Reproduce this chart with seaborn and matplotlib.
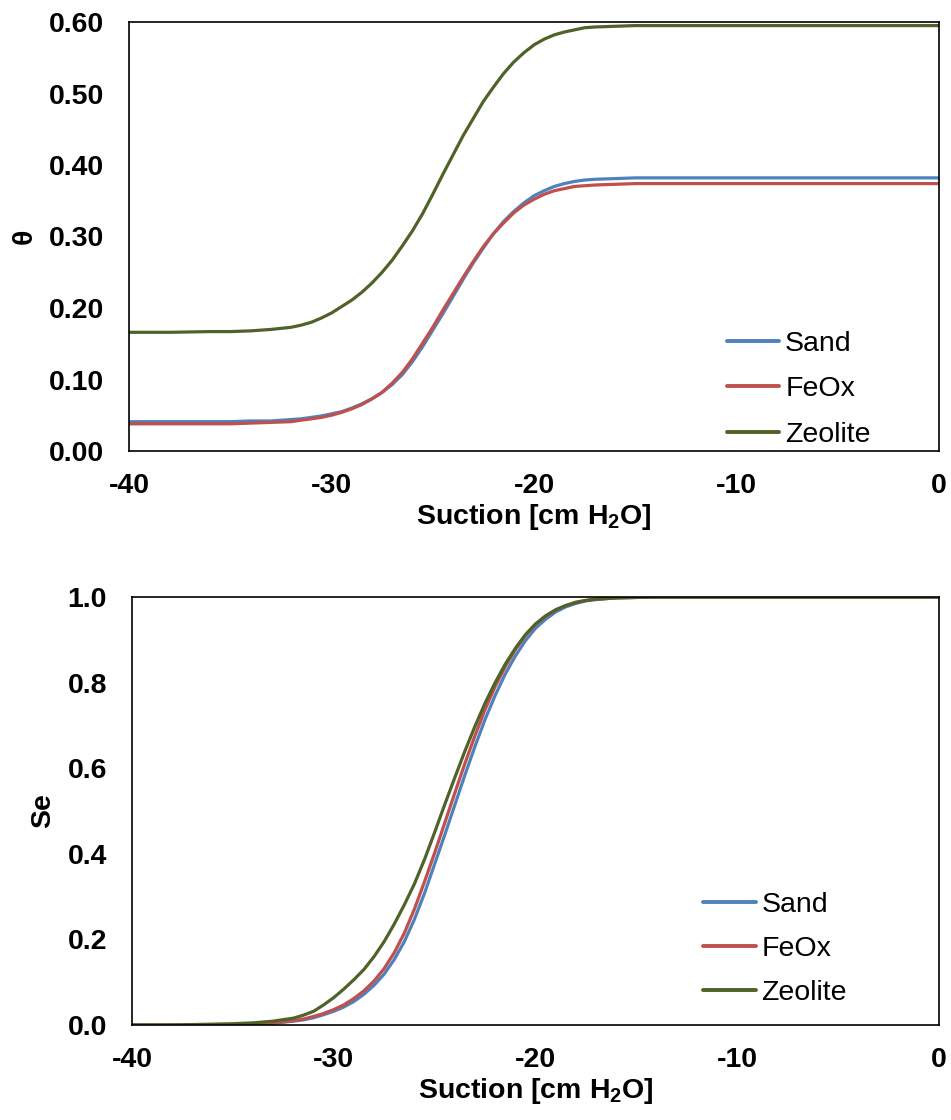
import numpy as np
import pandas as pd
import matplotlib
matplotlib.use("Agg")
import matplotlib.pyplot as plt
import seaborn as sns

# ---- data ----
suction = [-40, -38, -36, -35, -34, -33, -32, -31.5, -31, -30.5, -30, -29.5, -29, -28.5,
           -28, -27.5, -27, -26.5, -26, -25.5, -25, -24.5, -24, -23.5, -23, -22.5, -22,
           -21.5, -21, -20.5, -20, -19.5, -19, -18.5, -18, -17.5, -17, -16, -15, -14,
           -12, -10, -8, -6, -4, -2, 0]

theta_sand = [0.041, 0.041, 0.041, 0.041, 0.042, 0.042, 0.044, 0.045, 0.047, 0.049, 0.052,
              0.055, 0.060, 0.066, 0.073, 0.082, 0.093, 0.107, 0.125, 0.146, 0.169, 0.192,
              0.216, 0.240, 0.263, 0.284, 0.304, 0.321, 0.335, 0.347, 0.357, 0.364, 0.370,
              0.374, 0.377, 0.379, 0.380, 0.381, 0.382, 0.382, 0.382, 0.382, 0.382, 0.382,
              0.382, 0.382, 0.382]
theta_feox = [0.038, 0.038, 0.038, 0.038, 0.039, 0.040, 0.041, 0.043, 0.045, 0.047, 0.050,
              0.054, 0.059, 0.065, 0.073, 0.082, 0.095, 0.110, 0.129, 0.151, 0.173, 0.197,
              0.220, 0.243, 0.265, 0.286, 0.304, 0.319, 0.333, 0.344, 0.352, 0.359, 0.364,
              0.367, 0.370, 0.371, 0.372, 0.373, 0.374, 0.374, 0.374, 0.374, 0.374, 0.374,
              0.374, 0.374, 0.374]
theta_zeolite = [0.166, 0.166, 0.167, 0.167, 0.168, 0.170, 0.173, 0.176, 0.180, 0.186, 0.193,
                 0.202, 0.211, 0.222, 0.235, 0.250, 0.267, 0.287, 0.308, 0.332, 0.359, 0.387,
                 0.414, 0.441, 0.465, 0.489, 0.509, 0.528, 0.544, 0.557, 0.568, 0.576, 0.582,
                 0.586, 0.589, 0.592, 0.593, 0.594, 0.595, 0.595, 0.595, 0.595, 0.595, 0.595,
                 0.595, 0.595, 0.595]

se_sand = [0.000, 0.000, 0.000, 0.001, 0.002, 0.004, 0.009, 0.012, 0.017, 0.024, 0.032,
           0.042, 0.055, 0.072, 0.093, 0.119, 0.153, 0.195, 0.247, 0.308, 0.376, 0.444,
           0.514, 0.584, 0.651, 0.714, 0.770, 0.820, 0.862, 0.898, 0.927, 0.948, 0.965,
           0.977, 0.985, 0.991, 0.994, 0.998, 0.999, 1.000, 1.000, 1.000, 1.000, 1.000,
           1.000, 1.000, 1.000]
se_feox = [0.000, 0.000, 0.000, 0.001, 0.003, 0.005, 0.010, 0.014, 0.020, 0.027, 0.036,
           0.047, 0.062, 0.080, 0.103, 0.132, 0.169, 0.215, 0.271, 0.335, 0.402, 0.472,
           0.542, 0.611, 0.676, 0.737, 0.791, 0.837, 0.877, 0.910, 0.936, 0.955, 0.970,
           0.980, 0.988, 0.992, 0.995, 0.998, 0.999, 1.000, 1.000, 1.000, 1.000, 1.000,
           1.000, 1.000, 1.000]
se_zeolite = [0.000, 0.000, 0.002, 0.003, 0.005, 0.009, 0.016, 0.023, 0.032, 0.047, 0.064,
              0.084, 0.106, 0.130, 0.160, 0.195, 0.236, 0.281, 0.330, 0.387, 0.450, 0.515,
              0.578, 0.640, 0.698, 0.752, 0.800, 0.843, 0.880, 0.912, 0.937, 0.956, 0.970,
              0.980, 0.987, 0.992, 0.995, 0.998, 0.999, 1.000, 1.000, 1.000, 1.000, 1.000,
              1.000, 1.000, 1.000]

materials = ["Sand", "FeOx", "Zeolite"]
colors = ["#4F81BD", "#C0504D", "#4F6228"]
x_ticks = [-40, -30, -20, -10, 0]
theta_ticks = [0.0, 0.1, 0.2, 0.3, 0.4, 0.5, 0.6]
se_ticks = [0.0, 0.2, 0.4, 0.6, 0.8, 1.0]

# ---- long-form tables ----
def long_table(series):
    frames = []
    for name, vals in zip(materials, series):
        frames.append(pd.DataFrame({"Suction": suction, "value": vals, "Material": name}))
    return pd.concat(frames, ignore_index=True)

df_theta = long_table([theta_sand, theta_feox, theta_zeolite])
df_se = long_table([se_sand, se_feox, se_zeolite])

# ---- style ----
sns.set_theme(style="white")
plt.rcParams["font.family"] = ["Liberation Sans", "DejaVu Sans"]
plt.rcParams["axes.unicode_minus"] = False
plt.rcParams["mathtext.fontset"] = "custom"
plt.rcParams["mathtext.rm"] = "Liberation Sans"
plt.rcParams["mathtext.bf"] = "Liberation Sans:bold"
plt.rcParams["text.color"] = "black"
plt.rcParams["axes.labelcolor"] = "black"
plt.rcParams["xtick.color"] = "black"
plt.rcParams["ytick.color"] = "black"

FS = 20.5
fig = plt.figure(figsize=(9.51, 11.2), dpi=100)
ax1 = fig.add_axes([129 / 951, 1 - 451 / 1120, 810 / 951, 429 / 1120])
ax2 = fig.add_axes([132 / 951, 1 - 1025 / 1120, 807 / 951, 428 / 1120])

palette = dict(zip(materials, colors))

for ax, df, yticks, fmt, ylabel, ylabelpad, leg_anchor, lspace in [
    (ax1, df_theta, theta_ticks, "{:.2f}", "θ", 8, (0.738, 0.280), 0.68),
    (ax2, df_se, se_ticks, "{:.1f}", "Se", 8, (0.7076, 0.310), 0.62),
]:
    sns.lineplot(data=df, x="Suction", y="value", hue="Material", hue_order=materials,
                 palette=palette, linewidth=2.3, ax=ax, legend=False, sort=False)
    ax.set_xlim(-40, 0)
    ax.set_ylim(yticks[0], yticks[-1])
    ax.set_xticks(x_ticks)
    ax.set_xticklabels([str(v) for v in x_ticks], fontsize=FS, fontweight="bold")
    ax.set_yticks(yticks)
    ax.set_yticklabels([fmt.format(v) for v in yticks], fontsize=FS, fontweight="bold")
    ax.tick_params(axis="both", length=0, colors="black")
    ax.tick_params(axis="x", pad=16)
    ax.tick_params(axis="y", pad=18)
    for sp in ax.spines.values():
        sp.set_visible(True)
        sp.set_color("black")
        sp.set_linewidth(1.2)
    ax.set_xlabel(r"Suction [cm H$_\mathbf{2}$O]", fontsize=FS, fontweight="bold",
                  labelpad=2, color="black")
    ax.set_ylabel(ylabel, fontsize=FS, fontweight="bold", labelpad=ylabelpad, color="black")
    handles = [plt.Line2D([], [], color=c, linewidth=2.8) for c in colors]
    leg = ax.legend(handles, materials, loc="upper left", bbox_to_anchor=leg_anchor,
                    frameon=False, fontsize=FS, borderpad=0, borderaxespad=0,
                    handlelength=1.85, handletextpad=0.2, labelspacing=lspace)
    for t in leg.get_texts():
        t.set_color("black")

fig.savefig("out.png", dpi=100)
